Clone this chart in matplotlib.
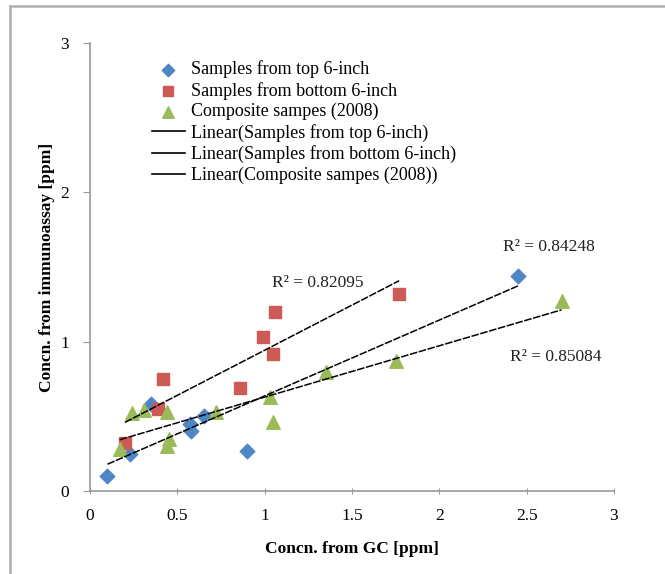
import matplotlib
matplotlib.use("Agg")
import matplotlib.pyplot as plt
from matplotlib.lines import Line2D
import numpy as np

plt.rcParams['font.family'] = ['Liberation Serif', 'DejaVu Serif']

# data
top_x = [0.10, 0.23, 0.35, 0.57, 0.58, 0.65, 0.90, 2.45]
top_y = [0.10, 0.25, 0.58, 0.45, 0.40, 0.50, 0.27, 1.44]

bot_x = [0.20, 0.39, 0.42, 0.86, 0.99, 1.05, 1.06, 1.77]
bot_y = [0.32, 0.55, 0.75, 0.69, 1.03, 0.92, 1.20, 1.32]

comp_x = [0.17, 0.24, 0.31, 0.44, 0.45, 0.44, 0.72, 1.03, 1.05, 1.35, 1.75, 2.70]
comp_y = [0.28, 0.52, 0.54, 0.53, 0.35, 0.30, 0.53, 0.63, 0.46, 0.80, 0.87, 1.27]

names = ['Samples from top 6-inch', 'Samples from bottom 6-inch', 'Composite sampes (2008)']
r2_text = ['R\u00b2 = 0.84248', 'R\u00b2 = 0.82095', 'R\u00b2 = 0.85084']

fig = plt.figure(figsize=(6.65, 5.74), dpi=100)
ax = fig.add_axes([0.1353, 0.1446, 0.788, 0.7805])

# picture frame (only top and left edges visible in the reference)
fig.add_artist(Line2D([10/665, 10/665], [0, 1 - 6/574], transform=fig.transFigure, color='#b0b0b0', lw=1.8))
fig.add_artist(Line2D([10/665, 1], [1 - 6/574, 1 - 6/574], transform=fig.transFigure, color='#b0b0b0', lw=1.8))

ax.scatter(top_x, top_y, marker='D', s=55, color='#4f86c6', label=names[0], zorder=3)
ax.scatter(bot_x, bot_y, marker='s', s=85, color='#cd5a55', label=names[1], zorder=3)
ax.scatter(comp_x, comp_y, marker='^', s=95, color='#9bbb59', label=names[2], zorder=3)

# linear trend lines
line_handles = []
for xs, ys, nm in [(top_x, top_y, names[0]), (bot_x, bot_y, names[1]), (comp_x, comp_y, names[2])]:
    k, b = np.polyfit(xs, ys, 1)
    xx = np.array([min(xs), max(xs)])
    ax.plot(xx, k * xx + b, color='black', lw=1.1, ls=(0, (5, 1)), zorder=4)
    line_handles.append(Line2D([], [], color='black', lw=1.2, label='Linear(' + nm + ')'))

ax.text(2.364, 1.634, r2_text[0], fontsize=12.5, va='center', color='#222222')
ax.text(1.04, 1.39, r2_text[1], fontsize=12.5, va='center', color='#222222')
ax.text(2.404, 0.898, r2_text[2], fontsize=12.5, va='center', color='#222222')

ax.set_xlim(0, 3)
ax.set_ylim(0, 3)
ax.set_xticks([0, 0.5, 1, 1.5, 2, 2.5, 3])
ax.set_xticklabels(['0', '0.5', '1', '1.5', '2', '2.5', '3'])
ax.set_yticks([0, 1, 2, 3])

for s in ['top', 'right']:
    ax.spines[s].set_visible(False)
for s in ['left', 'bottom']:
    ax.spines[s].set_color('#999999')
    ax.spines[s].set_linewidth(1.2)
ax.tick_params(axis='x', direction='inout', length=5, color='#999999', labelsize=12.5, pad=10)
ax.tick_params(axis='y', direction='out', length=5, color='#999999', labelsize=12.5, pad=10)

ax.set_xlabel('Concn. from GC [ppm]', fontsize=12.5, fontweight='bold', labelpad=12)
ax.set_ylabel('Concn. from immunoassay [ppm]', fontsize=12.5, fontweight='bold', labelpad=4)

handles, labels = ax.get_legend_handles_labels()
handles = handles + line_handles
labels = labels + [h.get_label() for h in line_handles]
ax.legend(handles, labels, loc='upper left', bbox_to_anchor=(0.104, 0.977), frameon=False,
          fontsize=13, labelspacing=0.19, handlelength=1.85, handletextpad=0.3,
          borderaxespad=0, scatterpoints=1, markerscale=0.85)

fig.savefig('out.png', dpi=100)
